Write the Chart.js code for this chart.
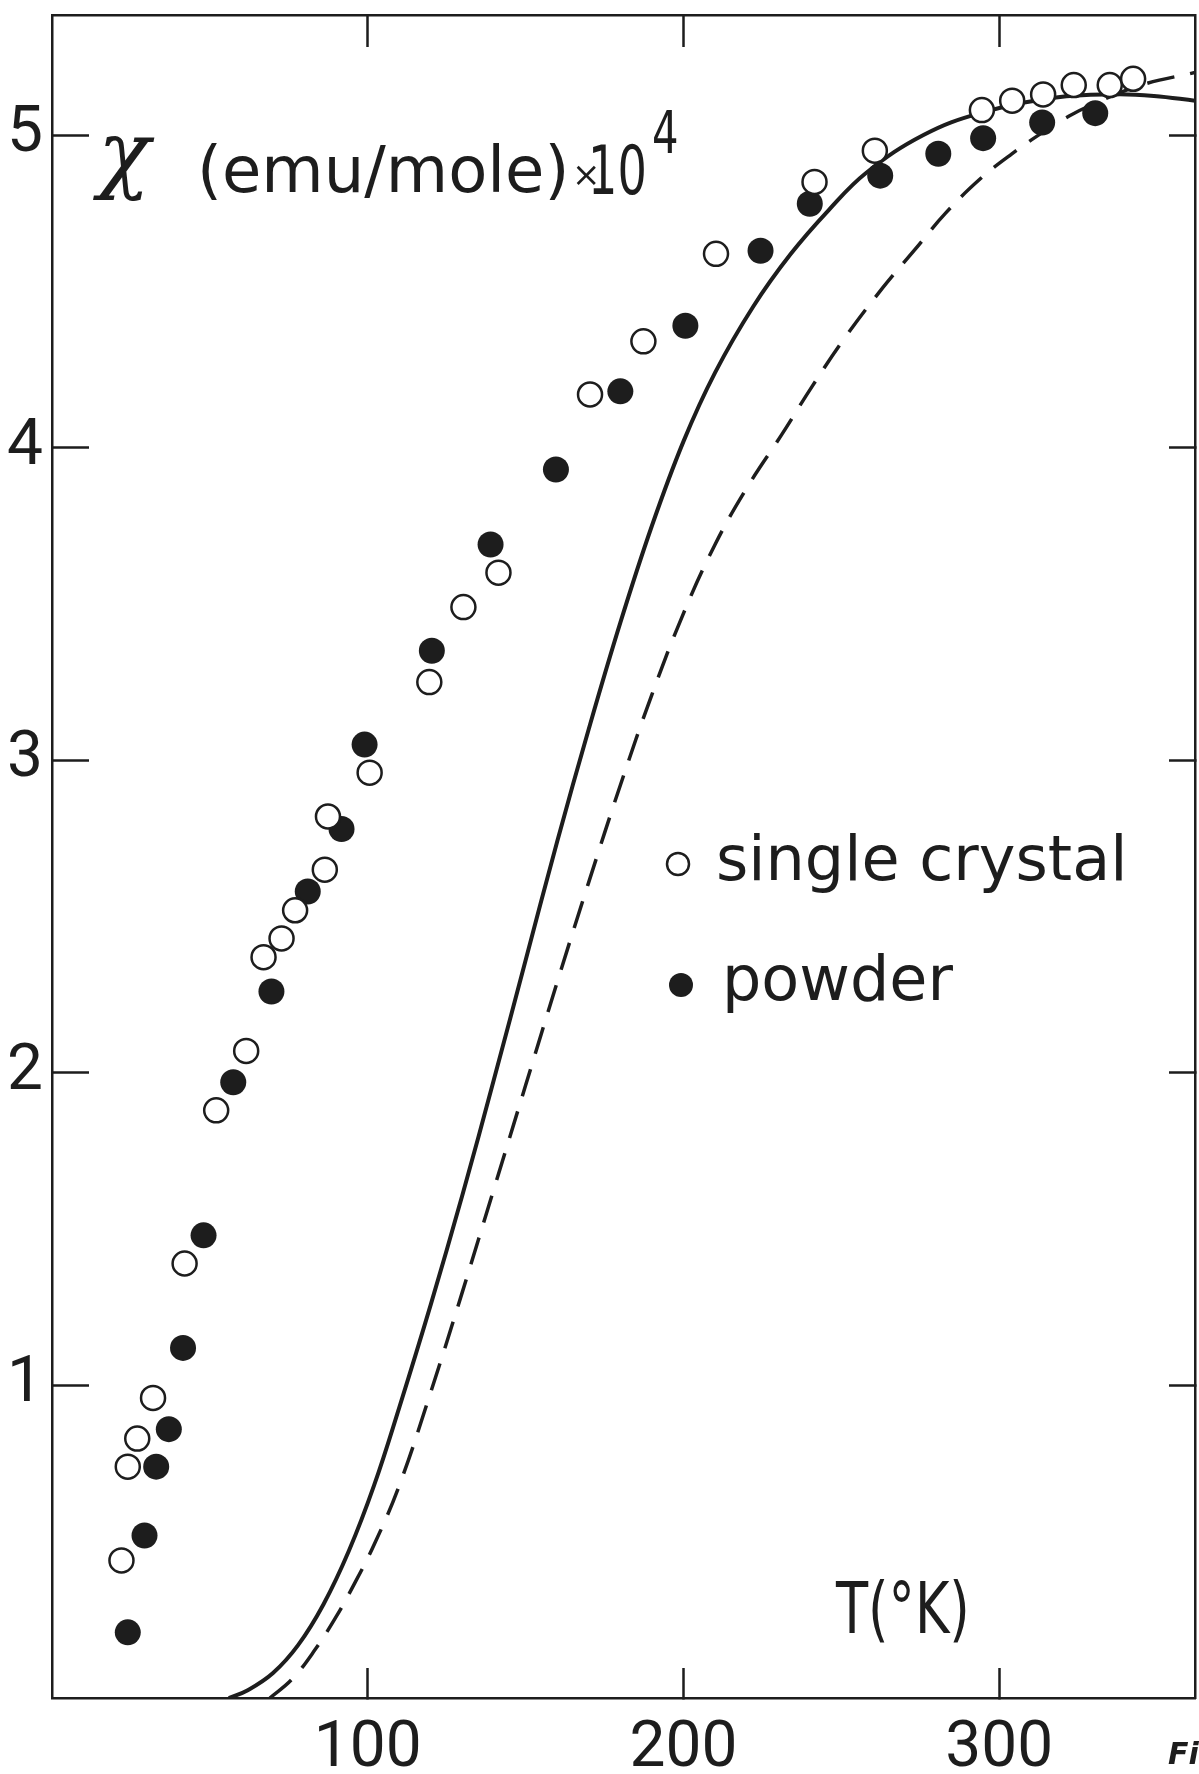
<!DOCTYPE html>
<html>
<head>
<meta charset="utf-8">
<script src="https://cdn.jsdelivr.net/npm/chart.js@4.4.1/dist/chart.umd.min.js"></script>
<style>
  html, body { margin: 0; padding: 0; background: #fff; }
  #wrap { width: 1199px; height: 1774px; }
</style>
</head>
<body>
<div id="wrap"><canvas id="chart" width="1199" height="1774"></canvas></div>
<script>
// measured points, T in K, chi in emu/mole x 10^4
const singleCrystalT = [22, 24, 27, 32, 42, 52, 61.5, 67, 72.7, 77, 86.4, 87.4, 100.6, 119.5, 130.3, 141.4, 170.4, 187.3, 210.3, 241.5, 260.6, 294.5, 304.1, 313.9, 323.6, 335, 342.4];
const singleCrystalChi = [0.44, 0.74, 0.83, 0.96, 1.39, 1.88, 2.07, 2.37, 2.43, 2.52, 2.65, 2.82, 2.96, 3.25, 3.49, 3.60, 4.17, 4.34, 4.62, 4.85, 4.95, 5.08, 5.11, 5.13, 5.16, 5.16, 5.18];

const powderT = [24, 29.3, 33, 37, 41.5, 48, 57.4, 69.5, 81, 91.7, 99, 120.3, 138.9, 159.6, 180, 200.6, 224.4, 240, 262.3, 280.7, 294.9, 313.6, 330.4];
const powderChi = [0.21, 0.52, 0.74, 0.86, 1.12, 1.48, 1.97, 2.26, 2.58, 2.78, 3.05, 3.35, 3.69, 3.93, 4.18, 4.39, 4.63, 4.78, 4.87, 4.94, 4.99, 5.04, 5.07];

// calculated curves
const solidCurveT = [56, 62, 70, 78, 86, 94, 102, 110, 120, 130, 140, 150, 160, 170, 180, 190, 200, 210, 222, 234, 246, 258, 276, 294, 318, 337, 349, 362];
const solidCurveChi = [0, 0.025, 0.08, 0.17, 0.30, 0.47, 0.68, 0.93, 1.26, 1.61, 1.98, 2.36, 2.74, 3.10, 3.44, 3.75, 4.02, 4.24, 4.45, 4.62, 4.76, 4.88, 5.00, 5.07, 5.12, 5.13, 5.125, 5.11];

const dashedCurveT = [69, 76, 83, 90, 96, 102, 110, 120, 130, 140, 150, 160, 170, 180, 190, 200, 210, 220, 231, 241, 251, 263, 273, 283, 294, 304, 314, 322, 330, 345, 362];
const dashedCurveChi = [0, 0.06, 0.15, 0.26, 0.37, 0.49, 0.68, 0.98, 1.30, 1.63, 1.96, 2.29, 2.61, 2.92, 3.21, 3.47, 3.69, 3.87, 4.04, 4.20, 4.35, 4.51, 4.63, 4.75, 4.86, 4.94, 5.01, 5.06, 5.10, 5.16, 5.2];

const xTicks = [100, 200, 300];
const yTicks = [1, 2, 3, 4, 5];
const xRange = [0, 362];
const yRange = [0, 5.384];

const ink = '#1d1d1d';
const tickFont = "'Liberation Sans Narrow', Roboto, 'DejaVu Sans', sans-serif";
const letterFont = "'DejaVu Sans', sans-serif";

const toPoints = (xs, ys) => xs.map((x, i) => ({ x: x, y: ys[i] }));
const fixTicks = values => scale => { scale.ticks = values.map(v => ({ value: v })); };
// fixed axis box, no extra room for half labels
const boxSize = (w, h) => scale => {
  if (w !== null) scale.width = w;
  if (h !== null) scale.height = h;
  scale.paddingTop = 0;
  scale.paddingBottom = 0;
  scale.paddingLeft = 0;
  scale.paddingRight = 0;
};

// squeezed lettering like the stencil text of the original
function drawText(ctx, text, x, y, font, sx) {
  ctx.save();
  ctx.font = font;
  ctx.translate(x, y);
  ctx.scale(sx || 1, 1);
  ctx.fillText(text, 0, 0);
  ctx.restore();
}

const annotations = {
  id: 'annotations',
  afterDraw(chart) {
    const ctx = chart.ctx;
    ctx.save();
    ctx.fillStyle = ink;
    ctx.strokeStyle = ink;
    ctx.textBaseline = 'alphabetic';
    ctx.textAlign = 'left';

    // y title
    drawText(ctx, 'χ', 98, 182, "italic 86px 'DejaVu Serif', serif", 1);
    drawText(ctx, '(emu/mole)', 197, 192, '64px ' + letterFont, 1);
    drawText(ctx, '×', 572, 186, '34px ' + letterFont, 1);
    drawText(ctx, '10', 588, 194, '68px ' + letterFont, 0.68);
    drawText(ctx, '4', 652, 153, '58px ' + letterFont, 0.72);

    // x title
    drawText(ctx, 'T(°K)', 836, 1633, '72px ' + letterFont, 0.73);

    // legend
    ctx.lineWidth = 2.5;
    ctx.beginPath();
    ctx.arc(678, 864, 11, 0, Math.PI * 2);
    ctx.stroke();
    drawText(ctx, 'single crystal', 716, 880, '62px ' + letterFont, 1);
    ctx.beginPath();
    ctx.arc(681, 985, 12, 0, Math.PI * 2);
    ctx.fill();
    drawText(ctx, 'powder', 722, 1000, '62px ' + letterFont, 1);

    // figure number, cut by the page edge
    drawText(ctx, 'Fig.3', 1168, 1764, "bold italic 30px 'DejaVu Sans', sans-serif", 1);
    ctx.restore();
  }
};

const axisLine = { display: true, color: ink, width: 2.5 };

new Chart(document.getElementById('chart'), {
  type: 'scatter',
  data: {
    datasets: [
      {
        label: 'single crystal',
        data: toPoints(singleCrystalT, singleCrystalChi),
        pointRadius: 12,
        pointBorderWidth: 2.5,
        pointBackgroundColor: '#fff',
        pointBorderColor: ink
      },
      {
        label: 'powder',
        data: toPoints(powderT, powderChi),
        pointRadius: 13,
        pointBorderWidth: 0,
        pointBackgroundColor: ink,
        pointBorderColor: ink
      },
      {
        label: 'solid',
        type: 'line',
        data: toPoints(solidCurveT, solidCurveChi),
        showLine: true,
        borderColor: ink,
        borderWidth: 4,
        pointRadius: 0,
        tension: 0.4,
        fill: false
      },
      {
        label: 'dashed',
        type: 'line',
        data: toPoints(dashedCurveT, dashedCurveChi),
        showLine: true,
        borderColor: ink,
        borderWidth: 3.5,
        borderDash: [28, 16],
        pointRadius: 0,
        tension: 0.4,
        fill: false
      }
    ]
  },
  options: {
    responsive: false,
    animation: false,
    devicePixelRatio: 1,
    layout: { autoPadding: false, padding: { top: 15, right: 4, left: 0, bottom: 0 } },
    plugins: { legend: { display: false }, tooltip: { enabled: false } },
    scales: {
      x: {
        type: 'linear', position: 'bottom', min: xRange[0], max: xRange[1],
        afterBuildTicks: fixTicks(xTicks),
        afterFit: boxSize(null, 76),
        grid: { drawOnChartArea: false, drawTicks: true, tickLength: -30, tickWidth: 2.5, tickColor: ink },
        border: axisLine,
        ticks: { padding: 44, color: ink, maxRotation: 0, autoSkip: false, font: { size: 64, family: tickFont } }
      },
      x2: {
        type: 'linear', position: 'top', min: xRange[0], max: xRange[1],
        afterBuildTicks: fixTicks(xTicks),
        afterFit: boxSize(null, 0),
        grid: { drawOnChartArea: false, drawTicks: true, tickLength: -32, tickWidth: 2.5, tickColor: ink },
        border: axisLine,
        ticks: { display: false }
      },
      y: {
        type: 'linear', position: 'left', min: yRange[0], max: yRange[1],
        afterBuildTicks: fixTicks(yTicks),
        afterFit: boxSize(52, null),
        grid: { drawOnChartArea: false, drawTicks: true, tickLength: -37, tickWidth: 2.5, tickColor: ink },
        border: axisLine,
        ticks: { padding: 46, color: ink, autoSkip: false, font: { size: 64, family: tickFont } }
      },
      y2: {
        type: 'linear', position: 'right', min: yRange[0], max: yRange[1],
        afterBuildTicks: fixTicks(yTicks),
        afterFit: boxSize(0, null),
        grid: { drawOnChartArea: false, drawTicks: true, tickLength: -26, tickWidth: 2.5, tickColor: ink },
        border: axisLine,
        ticks: { display: false }
      }
    }
  },
  plugins: [annotations]
});
</script>
</body>
</html>
